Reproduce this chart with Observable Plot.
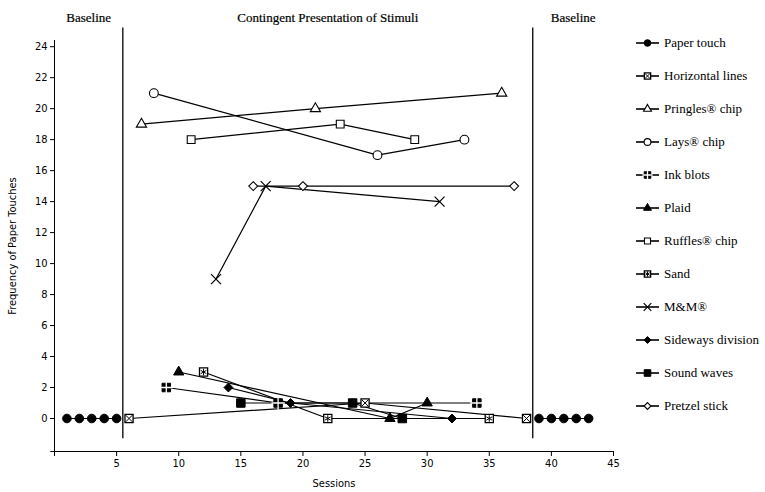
<!DOCTYPE html>
<html>
<head>
<meta charset="utf-8">
<script src="https://cdn.jsdelivr.net/npm/d3@7"></script>
<script src="https://cdn.jsdelivr.net/npm/@observablehq/plot@0.6"></script>
<style>
  html, body { margin: 0; padding: 0; background: #fff; }
  #wrap { position: relative; width: 765px; height: 492px; }
  #legend { position: absolute; left: 634px; top: 26px; font-family: "Liberation Serif", serif; font-size: 13px; color: #000; }
  #legend .item { display: flex; align-items: center; height: 33px; }
  #legend svg { margin-right: 2px; }
</style>
</head>
<body>
<div id="wrap"><div id="legend"></div></div>
<script>
// ---- data (sessions and frequency of paper touches) ----
const seriesNames = ["Paper touch", "Horizontal lines", "Pringles® chip", "Lays® chip", "Ink blots", "Plaid",
  "Ruffles® chip", "Sand", "M&M®", "Sideways division", "Sound waves", "Pretzel stick"];

const paperTouchSessions = [1, 2, 3, 4, 5, 39, 40, 41, 42, 43];
const paperTouchValues   = [0, 0, 0, 0, 0, 0, 0, 0, 0, 0];
const horizontalLinesSessions = [6, 25, 38];
const horizontalLinesValues   = [0, 1, 0];
const pringlesSessions = [7, 21, 36];
const pringlesValues   = [19, 20, 21];
const laysSessions = [8, 26, 33];
const laysValues   = [21, 17, 18];
const inkBlotsSessions = [9, 18, 34];
const inkBlotsValues   = [2, 1, 1];
const plaidSessions = [10, 27, 30];
const plaidValues   = [3, 0, 1];
const rufflesSessions = [11, 23, 29];
const rufflesValues   = [18, 19, 18];
const sandSessions = [12, 22, 35];
const sandValues   = [3, 0, 0];
const mmSessions = [13, 17, 31];
const mmValues   = [9, 15, 14];
const sidewaysSessions = [14, 19, 32];
const sidewaysValues   = [2, 1, 0];
const soundWavesSessions = [15, 24, 28];
const soundWavesValues   = [1, 1, 0];
const pretzelSessions = [16, 20, 37];
const pretzelValues   = [15, 15, 15];

const phaseChanges = [5.5, 38.5];
const xTicks = [0, 5, 10, 15, 20, 25, 30, 35, 40, 45];
const yTicks = [0, 2, 4, 6, 8, 10, 12, 14, 16, 18, 20, 22, 24];
const phaseLabels = ["Baseline", "Contingent Presentation of Stimuli", "Baseline"];

// ---- build table ----
const sessionArrays = [paperTouchSessions, horizontalLinesSessions, pringlesSessions, laysSessions, inkBlotsSessions,
  plaidSessions, rufflesSessions, sandSessions, mmSessions, sidewaysSessions, soundWavesSessions, pretzelSessions];
const valueArrays = [paperTouchValues, horizontalLinesValues, pringlesValues, laysValues, inkBlotsValues,
  plaidValues, rufflesValues, sandValues, mmValues, sidewaysValues, soundWavesValues, pretzelValues];

const rows = [];
seriesNames.forEach((name, i) => {
  sessionArrays[i].forEach((s, j) => {
    const phase = s < phaseChanges[0] ? 0 : s > phaseChanges[1] ? 2 : 1;
    rows.push({series: name, session: s, value: valueArrays[i][j], seg: name + "|" + phase});
  });
});

// marker styles: list of layers {symbol, r, fill, stroke, sw}
const markerStyles = {
  "Paper touch": [{symbol: "circle", r: 4.3, fill: "black", stroke: "black"}],
  "Horizontal lines": [{symbol: "square", r: 4.6, fill: "white", stroke: "black", sw: 1.3}, {symbol: "times", r: 3.2, fill: "none", stroke: "black", sw: 1}],
  "Pringles® chip": [{symbol: "triangle", r: 3.8, fill: "white", stroke: "black", sw: 1.1}],
  "Lays® chip": [{symbol: "circle", r: 4.4, fill: "white", stroke: "black", sw: 1.1}],
  "Ink blots": [{symbol: "square", r: 4.8, fill: "black", stroke: "black"}, {symbol: "plus", r: 4.4, fill: "none", stroke: "white", sw: 1.3}],
  "Plaid": [{symbol: "triangle", r: 3.8, fill: "black", stroke: "black"}],
  "Ruffles® chip": [{symbol: "square", r: 4.4, fill: "white", stroke: "black", sw: 1.1}],
  "Sand": [{symbol: "square", r: 4.6, fill: "white", stroke: "black", sw: 1.3}, {symbol: "asterisk", r: 3.1, fill: "none", stroke: "black", sw: 1}],
  "M&M®": [{symbol: "times", r: 4.6, fill: "none", stroke: "black", sw: 1.2}],
  "Sideways division": [{symbol: "diamond2", r: 4, fill: "black", stroke: "black"}],
  "Sound waves": [{symbol: "square", r: 4.8, fill: "black", stroke: "black"}],
  "Pretzel stick": [{symbol: "diamond2", r: 4, fill: "white", stroke: "black", sw: 1.1}]
};

const dotMarks = [];
for (const name of seriesNames) {
  const d = rows.filter(r => r.series === name);
  for (const st of markerStyles[name]) {
    dotMarks.push(Plot.dot(d, {x: "session", y: "value", symbol: () => st.symbol, r: st.r,
      fill: st.fill, stroke: st.stroke, strokeWidth: st.sw || 1}));
  }
}

const yMin = -2.13, yMax = 24.4;
const bounds = [0, phaseChanges[0], phaseChanges[1], 45];
const phaseCenters = phaseLabels.map((t, i) => ({label: t, x: (bounds[i] + bounds[i + 1]) / 2}));

const chart = Plot.plot({
  width: 765,
  height: 492,
  marginLeft: 54,
  marginRight: 152,
  marginTop: 40,
  marginBottom: 41,
  x: {domain: [0, 45]},
  y: {domain: [yMin, yMax]},
  symbol: {type: "identity"},
  style: {fontFamily: "'DejaVu Sans Condensed', 'DejaVu Sans', sans-serif", fontSize: "11px", background: "white", color: "black"},
  marks: [
    // axis lines
    Plot.ruleY([yMin], {x1: -0.3, x2: 45, stroke: "black", strokeWidth: 1}),
    Plot.ruleX([0], {y1: yMin, y2: yMax, stroke: "black", strokeWidth: 1}),
    // phase change lines
    Plot.ruleX(phaseChanges, {y1: -1.3, y2: 25.2, stroke: "black", strokeWidth: 1.3, clip: false}),
    Plot.axisX({ticks: xTicks, tickFormat: d => d === 0 ? "" : d, tickSize: 5, tickPadding: 3, fontSize: 11,
      label: "Sessions", labelAnchor: "center", labelArrow: "none", labelOffset: 35}),
    Plot.axisY({ticks: yTicks, tickSize: 4, tickPadding: 3, fontSize: 11,
      label: "Frequency of Paper Touches", labelAnchor: "center", labelArrow: "none", labelOffset: 46}),
    // series lines
    Plot.line(rows, {x: "session", y: "value", z: "seg", stroke: "black", strokeWidth: 1.2}),
    ...dotMarks,
    // phase headers
    Plot.text(phaseCenters, {x: "x", text: "label", frameAnchor: "top", dy: -28, fontFamily: "'Liberation Serif', serif",
      fontSize: 13, fill: "black", stroke: "black", strokeWidth: 0.2})
  ]
});
document.getElementById("wrap").prepend(chart);

// ---- legend ----
const legend = document.getElementById("legend");
const symMap = {circle: d3.symbolCircle, square: d3.symbolSquare, triangle: d3.symbolTriangle, times: d3.symbolTimes,
  plus: d3.symbolPlus, asterisk: d3.symbolAsterisk, diamond2: d3.symbolDiamond2};
for (const name of seriesNames) {
  const item = document.createElement("div");
  item.className = "item";
  const svg = d3.create("svg").attr("width", 28).attr("height", 14);
  svg.append("line").attr("x1", 2).attr("x2", 25).attr("y1", 7).attr("y2", 7).attr("stroke", "black").attr("stroke-width", 1.6);
  for (const st of markerStyles[name]) {
    svg.append("path").attr("transform", "translate(13.5,7)")
      .attr("d", d3.symbol(symMap[st.symbol], Math.PI * st.r * st.r * 0.6)())
      .attr("fill", st.fill).attr("stroke", st.stroke).attr("stroke-width", st.sw || 1);
  }
  item.appendChild(svg.node());
  const span = document.createElement("span");
  span.textContent = name;
  item.appendChild(span);
  legend.appendChild(item);
}
</script>
</body>
</html>
